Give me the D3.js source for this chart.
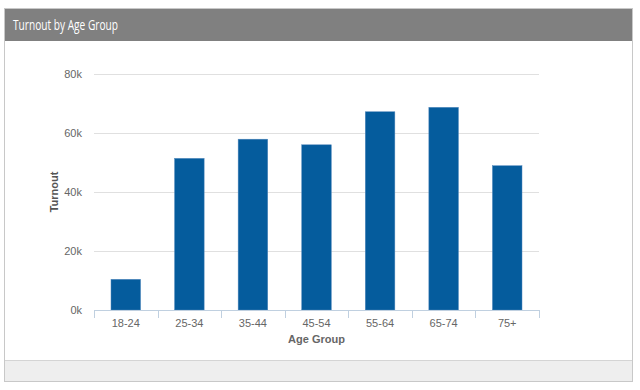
<!DOCTYPE html>
<html>
<head>
<meta charset="utf-8">
<script src="https://cdn.jsdelivr.net/npm/d3@7"></script>
<style>
  body { margin: 0; background: #fff; }
  svg text { font-family: "Liberation Sans", Arial, sans-serif; }
</style>
</head>
<body>
<div id="chart"></div>
<script>
// chart data
var ageGroups = ["18-24", "25-34", "35-44", "45-54", "55-64", "65-74", "75+"];
var turnout = [10400, 51400, 57900, 56000, 67200, 68700, 48900];
var yTicks = [0, 20000, 40000, 60000, 80000];

var W = 640, H = 390;
var svg = d3.select("#chart").append("svg")
    .attr("width", W)
    .attr("height", H);

// panel frame
svg.append("rect")
    .attr("x", 4.5).attr("y", 8.5)
    .attr("width", 628).attr("height", 373)
    .style("fill", "#fff")
    .style("stroke", "#c8c8c8");

svg.append("rect")
    .attr("x", 5).attr("y", 9)
    .attr("width", 627).attr("height", 32)
    .style("fill", "#808080");

// title is a narrow face in the original, squeeze it to the same width
svg.append("text")
    .text("Turnout by Age Group")
    .attr("x", 13).attr("y", 30)
    .attr("textLength", 105)
    .attr("lengthAdjust", "spacingAndGlyphs")
    .style("font-family", "'Open Sans', sans-serif")
    .style("font-size", "14px")
    .style("fill", "#fff");

svg.append("rect")
    .attr("x", 5).attr("y", 360)
    .attr("width", 627).attr("height", 21)
    .style("fill", "#eeeeee");
svg.append("line")
    .attr("x1", 5).attr("x2", 632)
    .attr("y1", 360.5).attr("y2", 360.5)
    .style("stroke", "#d4d4d4");

// plot area
var plotLeft = 94, plotRight = 539, plotTop = 74, plotBottom = 310;

var x = d3.scaleBand()
    .domain(ageGroups)
    .range([plotLeft, plotRight]);

var y = d3.scaleLinear()
    .domain([0, 80000])
    .range([plotBottom, plotTop]);

var chartArea = svg.append("g").attr("class", "chartArea");

// gridlines
chartArea.selectAll(".grid")
    .data(yTicks.filter(function(d) { return d > 0; }))
    .enter().append("line")
    .attr("class", "grid")
    .attr("x1", plotLeft).attr("x2", plotRight)
    .attr("y1", function(d) { return Math.round(y(d)) + 0.5; })
    .attr("y2", function(d) { return Math.round(y(d)) + 0.5; })
    .style("stroke", "#e0e0e0")
    .style("stroke-width", 1);

// y labels
chartArea.selectAll(".ylab")
    .data(yTicks)
    .enter().append("text")
    .attr("class", "ylab")
    .text(function(d) { return (d / 1000) + "k"; })
    .attr("x", 82)
    .attr("y", function(d) { return y(d) + 4; })
    .attr("text-anchor", "end")
    .style("font-size", "11px")
    .style("fill", "#666");

// bars
var barW = x.bandwidth() * 0.465;
chartArea.selectAll(".bar")
    .data(ageGroups)
    .enter().append("rect")
    .attr("class", "bar")
    .attr("x", function(d) { return x(d) + (x.bandwidth() - barW) / 2; })
    .attr("y", function(d, i) { return y(turnout[i]); })
    .attr("width", barW)
    .attr("height", function(d, i) { return plotBottom - y(turnout[i]); })
    .style("fill", "#055c9d")
    .style("stroke", "#4f86bb")
    .style("stroke-width", 0.5);

// x axis
chartArea.append("line")
    .attr("x1", plotLeft).attr("x2", plotRight)
    .attr("y1", plotBottom + 0.5).attr("y2", plotBottom + 0.5)
    .style("stroke", "#c0d0e0");

var tickPos = ageGroups.map(function(d) { return x(d); }).concat([plotRight]);
chartArea.selectAll(".xtick")
    .data(tickPos)
    .enter().append("line")
    .attr("class", "xtick")
    .attr("x1", function(d) { return Math.round(d) + 0.5; })
    .attr("x2", function(d) { return Math.round(d) + 0.5; })
    .attr("y1", plotBottom).attr("y2", plotBottom + 8)
    .style("stroke", "#c0d0e0");

chartArea.selectAll(".xlab")
    .data(ageGroups)
    .enter().append("text")
    .attr("class", "xlab")
    .text(function(d) { return d; })
    .attr("x", function(d) { return x(d) + x.bandwidth() / 2; })
    .attr("y", plotBottom + 17)
    .attr("text-anchor", "middle")
    .style("font-size", "11px")
    .style("fill", "#666");

// axis titles
chartArea.append("text")
    .text("Age Group")
    .attr("x", (plotLeft + plotRight) / 2)
    .attr("y", 343)
    .attr("text-anchor", "middle")
    .style("font-size", "11px")
    .style("font-weight", "bold")
    .style("fill", "#666");

chartArea.append("text")
    .text("Turnout")
    .attr("text-anchor", "middle")
    .attr("transform", "translate(58," + ((plotTop + plotBottom) / 2) + ") rotate(-90)")
    .style("font-size", "11px")
    .style("font-weight", "bold")
    .style("fill", "#555");
</script>
</body>
</html>
